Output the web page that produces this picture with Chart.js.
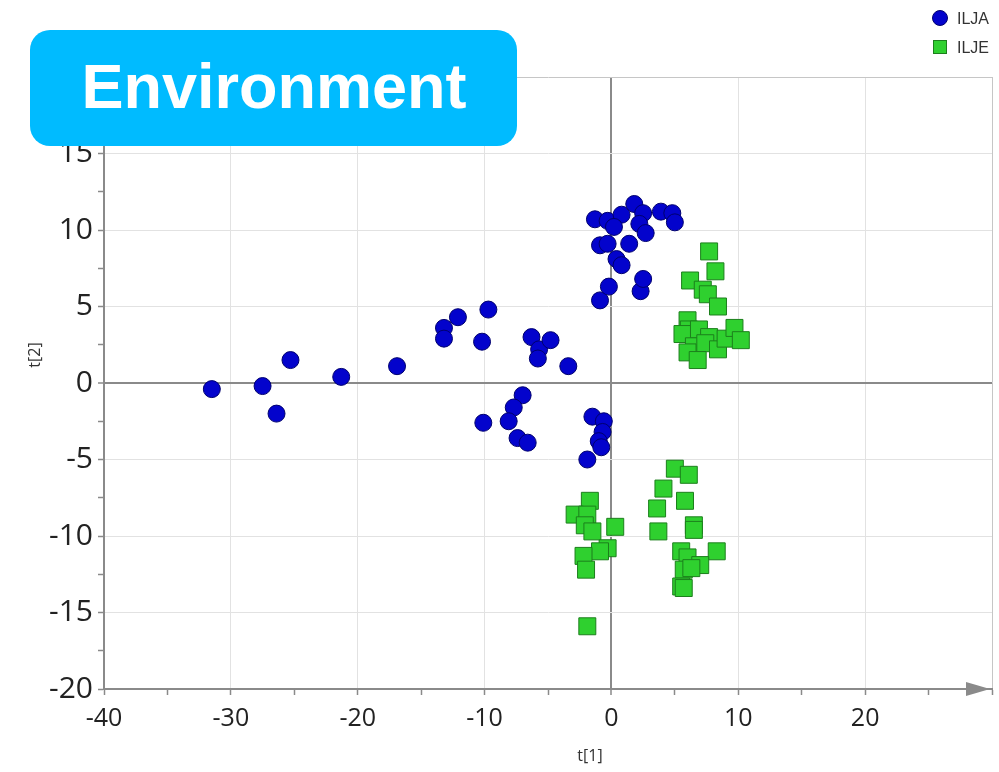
<!DOCTYPE html>
<html>
<head>
<meta charset="utf-8">
<script src="https://cdn.jsdelivr.net/npm/chart.js@4/dist/chart.umd.min.js"></script>
<style>
  html, body { margin: 0; padding: 0; background: #fff; }
  #wrap { width: 999px; height: 772px; position: relative; }
</style>
</head>
<body>
<div id="wrap"><canvas id="c" width="999" height="772"></canvas></div>
<script>
// Score plot t[1] vs t[2]
const headline = 'Environment';
const xTitle = 't[1]';
const yTitle = 't[2]';
const seriesNames = ['ILJA', 'ILJE'];

const iljaX = [-31.5, -27.5, -26.4, -25.3, -21.3, -16.9, -13.2, -13.2, -12.1, -9.7, -10.2,
  -6.3, -5.7, -5.8, -4.8, -3.4, -7.0, -7.7, -8.1, -10.1, -7.4, -6.6,
  -1.5, -0.6, -0.7, -1.0, -0.8, -1.9, -0.9, -0.2, 2.3, 2.5, 0.4, 0.8,
  -0.9, -0.3, 1.4, -1.3, -0.3, 0.8, 0.2, 1.8, 2.5, 2.2, 2.7, 3.9, 4.8, 5.0];
const iljaY = [-0.4, -0.2, -2.0, 1.5, 0.4, 1.1, 3.6, 2.9, 4.3, 4.8, 2.7,
  3.0, 2.2, 1.6, 2.8, 1.1, -0.8, -1.6, -2.5, -2.6, -3.6, -3.9,
  -2.2, -2.5, -3.2, -3.8, -4.2, -5.0, 5.4, 6.3, 6.0, 6.8, 8.1, 7.7,
  9.0, 9.1, 9.1, 10.7, 10.6, 11.0, 10.2, 11.7, 11.1, 10.4, 9.8, 11.2, 11.1, 10.5];

const iljeX = [7.7, 8.2, 6.2, 7.2, 7.6, 8.4, 6.0, 6.1, 5.6, 6.9, 7.7, 6.5, 6.0, 7.4, 8.4, 6.8,
  9.0, 9.7, 10.2,
  5.0, 6.1, 4.1, 5.8, 3.6, 6.5, 6.5, 3.7, 5.5, 8.3, 6.0, 7.0, 5.7, 6.3, 5.5, 5.7,
  -1.7, -2.9, -1.9, -2.1, -1.5, 0.3, -0.3, -0.9, -2.2, -2.0, -1.9];
const iljeY = [8.6, 7.3, 6.7, 6.1, 5.8, 5.0, 4.1, 3.5, 3.2, 3.5, 3.0, 2.4, 2.0, 2.6, 2.2, 1.5,
  2.9, 3.6, 2.8,
  -5.6, -6.0, -6.9, -7.7, -8.2, -9.3, -9.6, -9.7, -11.0, -11.0, -11.4, -11.9, -12.2, -12.1, -13.3, -13.4,
  -7.7, -8.6, -8.6, -9.3, -9.7, -9.4, -10.8, -11.0, -11.3, -12.2, -15.9];

const xMin = -40, xMax = 30, yMin = -20, yMax = 20;

const pairs = (xs, ys) => xs.map((x, i) => ({ x: x, y: ys[i] }));

const axisGray = '#8a8a8a';
const gridGray = '#e2e2e2';
const frameGray = '#c6c6c6';
const blueFill = '#0303cc';
const blueEdge = '#00006e';
const greenFill = '#2fd02f';
const greenEdge = '#1c7f1c';

// Arrow head, axis titles, legend and headline badge
const decor = {
  id: 'decor',
  afterDraw(chart) {
    const ctx = chart.ctx;
    const a = chart.chartArea;
    ctx.save();

    // arrow at the end of the t[1] axis
    ctx.fillStyle = axisGray;
    ctx.beginPath();
    ctx.moveTo(a.right - 2, a.bottom);
    ctx.lineTo(a.right - 26, a.bottom - 7);
    ctx.lineTo(a.right - 26, a.bottom + 7);
    ctx.closePath();
    ctx.fill();

    // axis titles
    ctx.fillStyle = '#333';
    ctx.font = "16px 'Open Sans', sans-serif";
    ctx.textAlign = 'center';
    ctx.textBaseline = 'middle';
    ctx.fillText(xTitle, 590, 756);
    ctx.save();
    ctx.translate(35, 355);
    ctx.rotate(-Math.PI / 2);
    ctx.fillText(yTitle, 0, 0);
    ctx.restore();

    // legend
    const ds = chart.data.datasets;
    ctx.textAlign = 'left';
    ctx.textBaseline = 'alphabetic';
    ctx.font = "16px 'Liberation Sans', sans-serif";
    ctx.lineWidth = 1;
    ctx.fillStyle = ds[0].backgroundColor;
    ctx.strokeStyle = ds[0].borderColor;
    ctx.beginPath();
    ctx.arc(940, 18, 7.5, 0, Math.PI * 2);
    ctx.fill();
    ctx.stroke();
    ctx.fillStyle = '#333';
    ctx.fillText(ds[0].label, 957, 24);
    ctx.fillStyle = ds[1].backgroundColor;
    ctx.strokeStyle = ds[1].borderColor;
    ctx.fillRect(933, 40, 14, 14);
    ctx.strokeRect(933.5, 40.5, 13, 13);
    ctx.fillStyle = '#333';
    ctx.fillText(ds[1].label, 957, 53);

    // headline badge
    ctx.fillStyle = '#00bbff';
    ctx.beginPath();
    ctx.roundRect(30, 30, 487, 116, 20);
    ctx.fill();
    ctx.fillStyle = '#ffffff';
    ctx.font = "bold 63px 'Liberation Sans', Arial, sans-serif";
    ctx.textAlign = 'center';
    ctx.fillText(headline, 274, 108);

    ctx.restore();
  }
};

new Chart(document.getElementById('c'), {
  type: 'scatter',
  data: {
    datasets: [
      {
        label: seriesNames[0],
        data: pairs(iljaX, iljaY),
        pointStyle: 'circle',
        pointRadius: 8.5,
        pointHoverRadius: 8.5,
        backgroundColor: blueFill,
        borderColor: blueEdge,
        borderWidth: 1
      },
      {
        label: seriesNames[1],
        data: pairs(iljeX, iljeY),
        pointStyle: 'rect',
        pointRadius: 12,
        pointHoverRadius: 12,
        backgroundColor: greenFill,
        borderColor: greenEdge,
        borderWidth: 1
      }
    ]
  },
  options: {
    responsive: false,
    animation: false,
    events: [],
    layout: { autoPadding: false, padding: { top: 77, right: 7, left: 0, bottom: 0 } },
    plugins: {
      legend: { display: false },
      title: { display: false },
      tooltip: { enabled: false }
    },
    scales: {
      x: {
        type: 'linear',
        min: xMin,
        max: xMax,
        afterFit: (s) => { s.height = 83; s.paddingLeft = 0; s.paddingRight = 0; },
        border: { color: axisGray, width: 2 },
        grid: {
          color: (c) => {
            const v = c.tick.value;
            if (v === 0) return axisGray;
            if (v === xMax) return frameGray;
            return v % 10 === 0 ? gridGray : 'rgba(0,0,0,0)';
          },
          lineWidth: (c) => (c.tick.value === 0 ? 2 : 1),
          tickColor: axisGray,
          tickWidth: 1.5,
          tickLength: 6
        },
        ticks: {
          stepSize: 5,
          autoSkip: false,
          maxRotation: 0,
          padding: 9,
          color: '#222',
          font: { family: "'Open Sans', sans-serif", size: 25 },
          callback: (v) => (v % 10 === 0 && v < xMax ? String(v) : '')
        }
      },
      y: {
        type: 'linear',
        min: yMin,
        max: yMax,
        afterFit: (s) => { s.width = 104; s.paddingTop = 0; s.paddingBottom = 0; },
        border: { color: axisGray, width: 2 },
        grid: {
          color: (c) => {
            const v = c.tick.value;
            if (v === 0) return axisGray;
            if (v === yMax) return frameGray;
            return v % 5 === 0 ? gridGray : 'rgba(0,0,0,0)';
          },
          lineWidth: (c) => (c.tick.value === 0 ? 2 : 1),
          tickColor: axisGray,
          tickWidth: 1.5,
          tickLength: 6
        },
        ticks: {
          stepSize: 2.5,
          autoSkip: false,
          padding: 5,
          color: '#222',
          font: { family: "'Open Sans', sans-serif", size: 30 },
          callback: (v) => (v % 5 === 0 && v < yMax ? String(v) : '')
        }
      }
    }
  },
  plugins: [decor]
});
</script>
</body>
</html>
